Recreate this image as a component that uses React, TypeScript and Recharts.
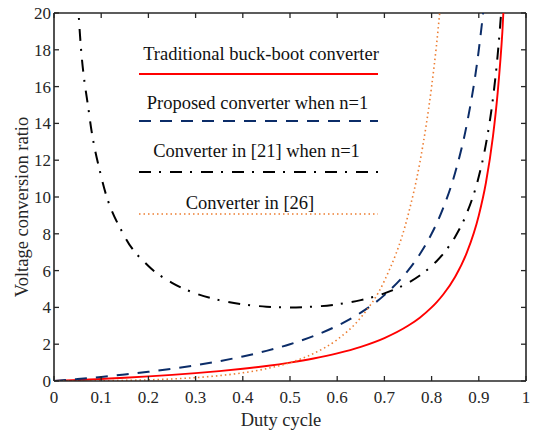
import React from "react";
import {
  LineChart,
  Line,
  XAxis,
  YAxis,
  ReferenceLine,
  Legend,
  Label,
} from "recharts";

// duty cycle samples (denser near the asymptote at D -> 1)
const dutyCycle = [
  0, 0.025, 0.05, 0.075, 0.1, 0.15, 0.2, 0.25, 0.3, 0.35, 0.4, 0.45, 0.5, 0.55,
  0.6, 0.65, 0.7, 0.75, 0.775, 0.8, 0.81, 0.825, 0.85, 0.875, 0.9, 0.915, 0.93,
  0.94, 0.95, 0.96,
];

const traditional = [
  0, 0.026, 0.053, 0.081, 0.111, 0.176, 0.25, 0.333, 0.429, 0.538, 0.667, 0.818,
  1, 1.222, 1.5, 1.857, 2.333, 3, 3.444, 4, 4.263, 4.714, 5.667, 7, 9, 10.76,
  13.29, 15.67, 19, 24,
];

const proposed = [
  0, 0.051, 0.105, 0.162, 0.222, 0.353, 0.5, 0.667, 0.857, 1.077, 1.333, 1.636,
  2, 2.444, 3, 3.714, 4.667, 6, 6.889, 8, 8.526, 9.429, 11.33, 14, 18, 21.53,
  26.57, null, null, null,
];

const conv21 = [
  null, 41.03, 21.05, 14.41, 11.11, 7.843, 6.25, 5.333, 4.762, 4.396, 4.167,
  4.04, 4, 4.04, 4.167, 4.396, 4.762, 5.333, 5.735, 6.25, 6.498, 6.926, 7.843,
  9.143, 11.11, 12.86, 15.36, 17.73, 21.05, 26.04,
];

const conv26 = [
  0, 0.001, 0.003, 0.007, 0.012, 0.031, 0.063, 0.111, 0.184, 0.29, 0.444, 0.669,
  1, 1.494, 2.25, 3.449, 5.444, 9, 11.86, 16, 18.17, 22.22, null, null, null,
  null, null, null, null, null,
];

const xTicks = [0, 0.1, 0.2, 0.3, 0.4, 0.5, 0.6, 0.7, 0.8, 0.9, 1];
const yTicks = [0, 2, 4, 6, 8, 10, 12, 14, 16, 18, 20];

const data = dutyCycle.map((d, i) => ({
  d,
  traditional: traditional[i],
  proposed: proposed[i],
  conv21: conv21[i],
  conv26: conv26[i],
}));

const SERIES = [
  { key: "traditional", name: "Traditional buck-boot converter", color: "#ff0000", dash: undefined, width: 1.9 },
  { key: "proposed", name: "Proposed converter when n=1", color: "#0b2c68", dash: "12 9", width: 2 },
  { key: "conv21", name: "Converter in [21] when n=1", color: "#000000", dash: "12 8 2 9", width: 2 },
  { key: "conv26", name: "Converter in [26]", color: "#ed7d31", dash: "1.5 3", width: 1.6 },
];

const W = 536;
const H = 432;
const PLOT_TOP = 13;
const PLOT_RIGHT = 526;
const AXIS = "#262626";
const FONT = "'Liberation Serif', 'DejaVu Serif', serif";
const tickStyle = { fontFamily: FONT, fontSize: 17 };
const titleStyle = { fontFamily: FONT, fontSize: 18.5 };

// bottom ticks: inward tick on the bottom and mirrored one on the top edge
const XTick = (props: any) => {
  const { x, y, payload } = props;
  return (
    <g>
      <line x1={x} y1={y} x2={x} y2={y - 5} stroke={AXIS} strokeWidth={1.3} />
      <line x1={x} y1={PLOT_TOP} x2={x} y2={PLOT_TOP + 5} stroke={AXIS} strokeWidth={1.3} />
      <text x={x} y={y + 22} textAnchor="middle" fill={AXIS} style={tickStyle}>
        {String(payload.value)}
      </text>
    </g>
  );
};

const YTick = (props: any) => {
  const { x, y, payload } = props;
  return (
    <g>
      <line x1={x} y1={y} x2={x + 5} y2={y} stroke={AXIS} strokeWidth={1.3} />
      <line x1={PLOT_RIGHT} y1={y} x2={PLOT_RIGHT - 5} y2={y} stroke={AXIS} strokeWidth={1.3} />
      <text x={x - 3} y={y + 6} textAnchor="end" fill={AXIS} style={tickStyle}>
        {String(payload.value)}
      </text>
    </g>
  );
};

const XTitle = (props: any) => {
  const { viewBox } = props;
  const cx = viewBox.x + viewBox.width / 2 - 9;
  return (
    <text x={cx} y={425.5} textAnchor="middle" fill={AXIS} style={titleStyle}>
      Duty cycle
    </text>
  );
};

const YTitle = (props: any) => {
  const { viewBox } = props;
  const cy = viewBox.y + viewBox.height / 2 + 10;
  return (
    <text x={27.5} y={cy} transform={`rotate(-90 27.5 ${cy})`} textAnchor="middle" fill={AXIS} style={titleStyle}>
      Voltage conversion ratio
    </text>
  );
};

// MATLAB style legend: label on top, line sample underneath
const LEGEND_ROWS = [
  { textX: 261, textY: 59.5, lineY: 74 },
  { textX: 257.5, textY: 109, lineY: 121 },
  { textX: 256.5, textY: 157, lineY: 172 },
  { textX: 250, textY: 209, lineY: 214 },
];

const LegendBox = () => (
  <svg width={W} height={H} style={{ position: "absolute", left: 0, top: 0 }}>
    {SERIES.map((s, i) => (
      <g key={s.key}>
        <text x={LEGEND_ROWS[i].textX} y={LEGEND_ROWS[i].textY} textAnchor="middle" fill="#111" style={titleStyle}>
          {s.name}
        </text>
        <line
          x1={139}
          x2={378}
          y1={LEGEND_ROWS[i].lineY}
          y2={LEGEND_ROWS[i].lineY}
          stroke={s.color}
          strokeWidth={s.width}
          strokeDasharray={s.dash}
        />
      </g>
    ))}
  </svg>
);

export default function App() {
  return (
    <div style={{ width: W, height: H, position: "relative", background: "#fff", fontFamily: FONT }}>
      <style>{`body{margin:0}`}</style>
      <LineChart width={W} height={H} data={data} margin={{ top: PLOT_TOP, right: W - PLOT_RIGHT, left: 0, bottom: 0 }}>
        <XAxis
          dataKey="d"
          type="number"
          domain={[0, 1]}
          ticks={xTicks}
          height={51}
          tickLine={false}
          tickSize={0}
          tickMargin={0}
          tick={<XTick />}
          axisLine={{ stroke: AXIS, strokeWidth: 1.6 }}
          interval={0}
        >
          <Label content={<XTitle />} />
        </XAxis>
        <YAxis
          type="number"
          domain={[0, 20]}
          ticks={yTicks}
          width={54}
          allowDataOverflow
          tickLine={false}
          tickSize={0}
          tickMargin={0}
          tick={<YTick />}
          axisLine={{ stroke: AXIS, strokeWidth: 1.6 }}
          interval={0}
        >
          <Label content={<YTitle />} />
        </YAxis>
        <ReferenceLine y={20} stroke={AXIS} strokeWidth={1.6} />
        <ReferenceLine x={1} stroke={AXIS} strokeWidth={1.6} />
        {SERIES.map((s) => (
          <Line
            key={s.key}
            dataKey={s.key}
            name={s.name}
            type="monotone"
            stroke={s.color}
            strokeWidth={s.width}
            strokeDasharray={s.dash}
            dot={false}
            activeDot={false}
            isAnimationActive={false}
          />
        ))}
        <Legend
          verticalAlign="middle"
          align="center"
          content={() => <LegendBox />}
          wrapperStyle={{ position: "absolute", left: 0, top: 0, width: W, height: H, pointerEvents: "none" }}
        />
      </LineChart>
    </div>
  );
}
